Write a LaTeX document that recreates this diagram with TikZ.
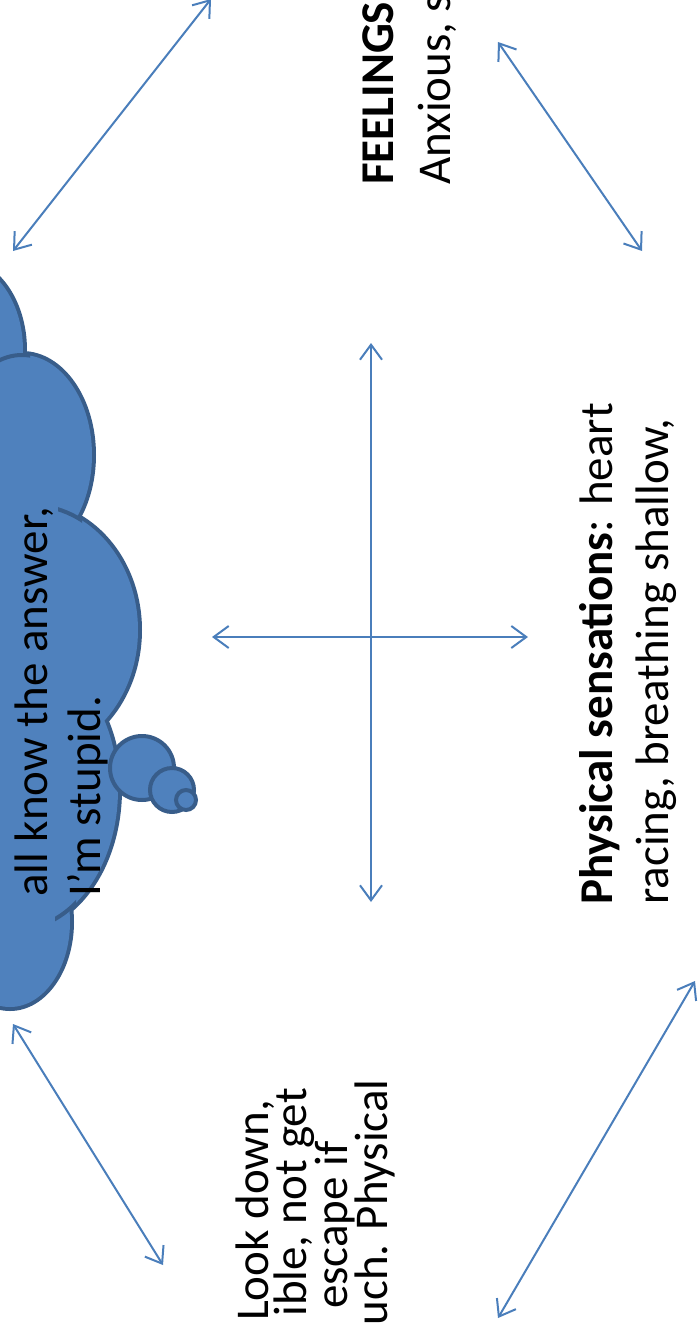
\documentclass[tikz,border=0pt]{standalone}
\usepackage{fontspec}
\setmainfont{Carlito}
\usetikzlibrary{arrows.meta}
\definecolor{cloudfill}{HTML}{4F81BD}
\definecolor{cloudline}{HTML}{385D8A}
\definecolor{arrowblue}{HTML}{4A7EBB}
\tikzset{
  twoway/.style={arrowblue, line width=2pt,
    {Straight Barb[length=15pt,width=22pt]}-{Straight Barb[length=15pt,width=22pt]}},
  vtext/.style={rotate=90, inner sep=0pt, font=\fontsize{47}{56}\selectfont},
}

\begin{document}
\begin{tikzpicture}[x=1pt,y=-1pt]
\useasboundingbox (0,0) rectangle (700,1327);
\clip (0,0) rectangle (700,1327);

% thought cloud, outline first then fill over it
\foreach \cx/\cy/\rx/\ry in {-40/350/63/88, 22/455/70/100, 30/630/108/125, 15/790/103/140, 10/922/60/85}
  \draw[cloudline, line width=8pt] (\cx,\cy) ellipse [x radius=\rx, y radius=\ry];
\foreach \cx/\cy/\rx/\ry in {-40/350/63/88, 22/455/70/100, 30/630/108/125, 15/790/103/140, 10/922/60/85}
  \fill[cloudfill] (\cx,\cy) ellipse [x radius=\rx, y radius=\ry];

% small inner stubs of the cloud
\begin{scope}
  \clip (0,340) rectangle (30,372);
  \draw[cloudline, line width=4pt] (22,455) ellipse [x radius=70, y radius=100];
\end{scope}
\begin{scope}
  \clip (58,500) rectangle (82,525);
  \draw[cloudline, line width=4pt] (30,630) ellipse [x radius=108, y radius=125];
\end{scope}
\begin{scope}
  \clip (55,898) rectangle (76,925);
  \draw[cloudline, line width=4pt] (15,790) ellipse [x radius=103, y radius=140];
\end{scope}

% bubbles
\filldraw[fill=cloudfill, draw=cloudline, line width=4pt] (142,768) circle [radius=32];
\filldraw[fill=cloudfill, draw=cloudline, line width=4pt] (172,790) circle [radius=22];
\filldraw[fill=cloudfill, draw=cloudline, line width=4pt] (186,800) circle [radius=10];

% texts
\node[vtext, anchor=base west] (cloudA) at (47,897) {all know the answer,};
\node[vtext, anchor=base west] (cloudB) at (100,897) {I’m stupid.};

\node[vtext, anchor=base west] (feelA) at (393,185) {\textbf{FEELINGS}};
\node[vtext, anchor=base west] (feelB) at (450,185) {Anxious, s};

\node[vtext, anchor=base west] (physA) at (612,905) {\textbf{Physical sensations}: heart};
\node[vtext, anchor=base west] (physB) at (668,905) {racing, breathing shallow,};

\node[vtext, anchor=base east] (behA) at (268,1100) {Look down,};
\node[vtext, anchor=base east] (behB) at (306,1088) {ible, not get};
\node[vtext, anchor=base east] (behC) at (347,1141) {escape if};
\node[vtext, anchor=base east] (behD) at (387,1079) {uch. Physical};

% arrows
\coordinate (tlA) at (211,-1);
\coordinate (tlB) at (13,251);
\coordinate (trA) at (498,42);
\coordinate (trB) at (642,251);
\coordinate (blA) at (13,1024);
\coordinate (blB) at (163,1265);
\coordinate (brA) at (695,981);
\coordinate (brB) at (498,1318);
\coordinate (vA) at (371,343);
\coordinate (vB) at (371,902);
\coordinate (hA) at (212,637);
\coordinate (hB) at (528,637);

\draw[twoway] (tlA) -- (tlB);
\draw[twoway] (trA) -- (trB);
\draw[twoway] (blA) -- (blB);
\draw[twoway] (brA) -- (brB);
\draw[twoway] (vA) -- (vB);
\draw[twoway] (hA) -- (hB);
\end{tikzpicture}
\end{document}
